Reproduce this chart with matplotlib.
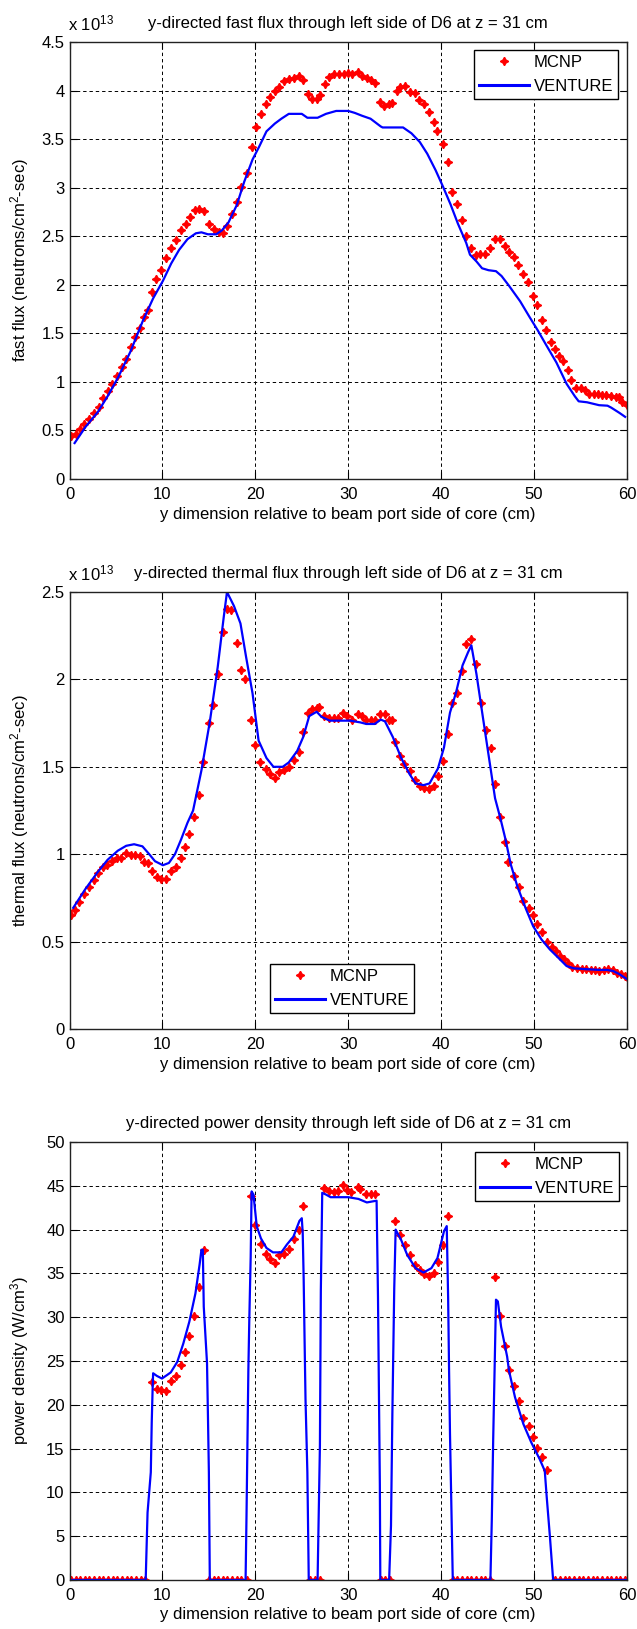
import numpy as np
import matplotlib
matplotlib.use('Agg')
import matplotlib.pyplot as plt
from matplotlib.ticker import FormatStrFormatter

plt.rcParams['font.family'] = ['Liberation Sans', 'DejaVu Sans']
plt.rcParams['font.size'] = 12
plt.rcParams['mathtext.default'] = 'regular'

# ---- fast flux (units of 1e13) ----
fast_mcnp_x = [0.2, 0.65, 1.1, 1.6, 2.1, 2.6, 3.15, 3.6, 4.1, 4.6, 5.1, 5.6, 6.1, 6.65, 7.1, 7.6,
               8.0, 8.4, 8.9, 9.35, 9.9, 10.4, 10.95, 11.5, 12.0, 12.5, 13.0, 13.5, 13.9, 14.45,
               15.0, 15.5, 16.1, 16.5, 17.0, 17.5, 18.05, 18.5, 19.05, 19.6, 20.05, 20.6, 21.1,
               21.6, 22.1, 22.6, 23.1, 23.65, 24.2, 24.65, 25.1, 25.7, 26.1, 26.6, 27.0, 27.5,
               27.95, 28.5, 29.0, 29.5, 30.0, 30.4, 31.0, 31.45, 32.0, 32.4, 32.9, 33.4, 33.9,
               34.4, 34.75, 35.2, 35.6, 36.1, 36.65, 37.15, 37.65, 38.2, 38.65, 39.2, 39.6, 40.15,
               40.7, 41.2, 41.7, 42.2, 42.7, 43.2, 43.7, 44.2, 44.75, 45.3, 45.8, 46.3, 46.9, 47.3,
               47.8, 48.3, 48.85, 49.35, 49.9, 50.3, 50.8, 51.3, 51.8, 52.25, 52.7, 53.1, 53.65,
               54.0, 54.5, 55.1, 55.5, 55.95, 56.4, 56.85, 57.3, 57.75, 58.3, 58.8, 59.15, 59.5, 60.0]
fast_mcnp_y = [0.44, 0.46, 0.52, 0.57, 0.62, 0.68, 0.74, 0.83, 0.91, 0.98, 1.06, 1.15, 1.24, 1.36, 1.46, 1.55,
               1.67, 1.74, 1.93, 2.06, 2.15, 2.28, 2.38, 2.46, 2.56, 2.63, 2.70, 2.77, 2.78, 2.76,
               2.63, 2.57, 2.54, 2.53, 2.61, 2.73, 2.85, 3.01, 3.15, 3.42, 3.62, 3.76, 3.86,
               3.93, 4.00, 4.04, 4.10, 4.12, 4.13, 4.15, 4.11, 3.96, 3.91, 3.91, 3.95, 4.07,
               4.14, 4.17, 4.17, 4.17, 4.18, 4.17, 4.19, 4.15, 4.13, 4.11, 4.08, 3.88, 3.84,
               3.86, 3.87, 4.00, 4.04, 4.05, 3.98, 3.97, 3.90, 3.86, 3.78, 3.68, 3.58, 3.45,
               3.26, 2.96, 2.83, 2.67, 2.50, 2.38, 2.31, 2.32, 2.32, 2.38, 2.47, 2.47, 2.40, 2.34,
               2.29, 2.20, 2.11, 2.03, 1.88, 1.79, 1.64, 1.53, 1.41, 1.34, 1.27, 1.21, 1.12,
               1.02, 0.94, 0.94, 0.92, 0.875, 0.875, 0.875, 0.865, 0.86, 0.855, 0.84, 0.84, 0.79, 0.76]
fast_vent_x = [0.55, 1.75, 3.05, 4.15, 5.25, 6.55, 7.9, 9.0, 10.05, 10.95, 11.8, 12.7, 13.6, 14.2,
               14.9, 15.8, 16.4, 17.1, 18.0, 18.8, 19.7, 20.4, 21.2, 22.1, 22.8, 23.6, 25.0, 25.6,
               26.7, 27.6, 28.7, 30.0, 30.7, 31.5, 32.4, 33.5, 33.7, 35.9, 36.8, 37.7, 38.5, 39.4,
               40.2, 41.0, 41.8, 42.7, 43.1, 43.8, 44.4, 45.1, 45.9, 46.5, 47.3, 48.5, 49.5, 50.4,
               51.3, 52.4, 53.5, 54.4, 54.8, 55.7, 57.0, 57.9, 58.3, 59.2, 59.8]
fast_vent_y = [0.37, 0.54, 0.69, 0.86, 1.05, 1.31, 1.63, 1.86, 2.04, 2.22, 2.36, 2.47, 2.53, 2.54,
               2.52, 2.52, 2.56, 2.64, 2.82, 3.06, 3.29, 3.42, 3.58, 3.66, 3.71, 3.76, 3.76, 3.72,
               3.72, 3.76, 3.79, 3.79, 3.77, 3.74, 3.71, 3.63, 3.62, 3.62, 3.56, 3.47, 3.35, 3.18,
               3.01, 2.83, 2.63, 2.43, 2.31, 2.24, 2.17, 2.15, 2.14, 2.09, 1.99, 1.83, 1.67, 1.53,
               1.38, 1.20, 0.98, 0.85, 0.80, 0.79, 0.76, 0.755, 0.735, 0.68, 0.64]

# ---- thermal flux (units of 1e13) ----
therm_mcnp_x = [0.15, 0.6, 1.05, 1.6, 2.05, 2.6, 3.1, 3.6, 4.05, 4.55, 5.1, 5.55, 6.1, 6.6, 7.1, 7.55,
                8.0, 8.4, 8.85, 9.4, 9.9, 10.4, 10.9, 11.45, 11.95, 12.4, 12.9, 13.4, 13.9, 14.4,
                15.0, 15.45, 15.95, 16.5, 16.9, 17.4, 18.0, 18.45, 18.9, 19.55, 20.0, 20.55, 21.1,
                21.6, 22.1, 22.6, 23.1, 23.6, 24.2, 24.65, 25.1, 25.7, 26.1, 26.6, 26.9, 27.4,
                27.95, 28.5, 28.9, 29.4, 29.85, 30.45, 31.0, 31.45, 31.9, 32.4, 32.85, 33.4, 33.95,
                34.4, 34.75, 35.05, 35.6, 36.05, 36.65, 37.15, 37.7, 38.2, 38.7, 39.2, 39.65, 40.2,
                40.75, 41.2, 41.7, 42.2, 42.7, 43.25, 43.8, 44.25, 44.8, 45.35, 45.8, 46.3, 46.9,
                47.2, 47.85, 48.4, 48.85, 49.4, 49.9, 50.3, 50.8, 51.4, 51.9, 52.35, 52.8, 53.25,
                53.7, 54.1, 54.65, 55.15, 55.6, 56.1, 56.55, 57.0, 57.5, 58.0, 58.5, 58.95, 59.4,
                59.8, 60.0]
therm_mcnp_y = [0.65, 0.68, 0.725, 0.775, 0.81, 0.855, 0.89, 0.925, 0.94, 0.96, 0.98, 0.98, 1.005, 0.995, 0.995, 0.99,
                0.955, 0.95, 0.905, 0.867, 0.86, 0.858, 0.905, 0.925, 0.98, 1.04, 1.113, 1.21, 1.34, 1.525,
                1.75, 1.855, 2.03, 2.27, 2.40, 2.395, 2.21, 2.055, 2.00, 1.77, 1.625, 1.53, 1.485,
                1.46, 1.435, 1.47, 1.48, 1.50, 1.54, 1.585, 1.70, 1.81, 1.83, 1.835, 1.84, 1.79,
                1.78, 1.78, 1.78, 1.81, 1.79, 1.77, 1.80, 1.79, 1.765, 1.765, 1.765, 1.80, 1.80,
                1.765, 1.765, 1.64, 1.56, 1.515, 1.475, 1.425, 1.39, 1.38, 1.375, 1.39, 1.45, 1.535,
                1.685, 1.865, 1.925, 2.05, 2.205, 2.23, 2.09, 1.865, 1.71, 1.61, 1.40, 1.215, 1.07,
                0.955, 0.877, 0.81, 0.735, 0.69, 0.65, 0.60, 0.555, 0.50, 0.47, 0.445, 0.42, 0.40,
                0.375, 0.355, 0.348, 0.342, 0.342, 0.338, 0.336, 0.332, 0.338, 0.345, 0.338, 0.322, 0.317,
                0.305, 0.295]
therm_vent_x = [0.4, 1.7, 3.0, 4.1, 5.2, 6.1, 6.95, 7.85, 8.5, 9.2, 10.05, 10.7, 11.35, 12.0, 12.7,
                13.3, 14.2, 15.1, 15.95, 16.6, 16.95, 17.7, 18.4, 19.0, 19.7, 20.35, 21.2, 21.95,
                22.95, 23.6, 24.5, 25.15, 25.8, 26.6, 27.1, 28.0, 30.2, 31.3, 31.95, 32.85, 33.5,
                33.95, 34.8, 35.7, 36.6, 37.25, 38.1, 38.75, 39.65, 40.3, 40.95, 41.6, 42.3, 42.9,
                43.25, 43.8, 44.5, 45.15, 45.8, 46.4, 46.9, 47.5, 48.2, 49.1, 49.9, 50.8, 51.7, 52.6,
                53.5, 54.3, 55.65, 57.0, 57.85, 58.5, 59.2, 60.0]
therm_vent_y = [0.693, 0.80, 0.895, 0.968, 1.02, 1.048, 1.057, 1.045, 1.005, 0.96, 0.937, 0.95, 1.0, 1.083, 1.18,
                1.25, 1.48, 1.757, 2.07, 2.357, 2.50, 2.42, 2.32, 2.13, 1.92, 1.65, 1.55, 1.50,
                1.50, 1.525, 1.59, 1.67, 1.79, 1.815, 1.787, 1.764, 1.764, 1.754, 1.745, 1.745, 1.77,
                1.76, 1.67, 1.55, 1.458, 1.405, 1.395, 1.405, 1.49, 1.61, 1.81, 1.925, 2.08, 2.156,
                2.195, 2.03, 1.78, 1.55, 1.32, 1.20, 1.09, 0.94, 0.816, 0.69, 0.588, 0.512, 0.455, 0.408,
                0.36, 0.347, 0.342, 0.338, 0.338, 0.332, 0.313, 0.285]

# ---- power density (W/cm3) ----
pow_mcnp_x = [0.15, 0.65, 1.15, 1.65, 2.15, 2.65, 3.15, 3.65, 4.15, 4.65, 5.15, 5.65, 6.15, 6.65, 7.15,
              7.65, 8.15, 8.85, 9.4, 9.9, 10.4, 10.9, 11.45, 11.95, 12.4, 12.9, 13.45, 13.9, 14.45,
              15.0, 15.5, 16.0, 16.5, 17.0, 17.5, 18.0, 18.5, 19.05, 19.55, 20.0, 20.6, 21.1, 21.6,
              22.1, 22.6, 23.1, 23.6, 24.15, 24.75, 25.1, 25.85, 26.4, 26.95, 27.4, 27.95, 28.5,
              28.9, 29.4, 29.85, 30.3, 31.0, 31.3, 31.9, 32.4, 32.85, 33.5, 34.0, 34.5, 35.05, 35.6,
              36.15, 36.65, 37.15, 37.7, 38.2, 38.7, 39.2, 39.65, 40.2, 40.75, 41.25, 41.75, 42.25,
              42.75, 43.25, 43.75, 44.25, 44.75, 45.3, 45.8, 46.35, 46.9, 47.3, 47.85, 48.35, 48.8,
              49.4, 49.9, 50.3, 50.85, 51.35, 52.3, 52.8, 53.3, 53.8, 54.3, 54.8, 55.3, 55.8, 56.3,
              56.8, 57.3, 57.8, 58.3, 58.8, 59.3, 59.8]
pow_mcnp_y = [0, 0, 0, 0, 0, 0, 0, 0, 0, 0, 0, 0, 0, 0, 0,
              0, 0, 22.56, 21.8, 21.7, 21.6, 22.7, 23.25, 24.6, 26.0, 27.9, 30.1, 33.4, 37.7,
              0, 0, 0, 0, 0, 0, 0, 0, 0, 43.8, 40.5, 38.4, 37.2, 36.7,
              36.2, 37.1, 37.2, 37.8, 38.95, 39.9, 42.65, 0, 0, 0, 44.74, 44.36, 44.25,
              44.44, 45.1, 44.55, 44.25, 44.86, 44.63, 44.1, 44.1, 44.1, 0, 0, 0, 41.0, 39.33,
              38.27, 37.12, 36.0, 35.4, 34.95, 34.65, 35.0, 36.3, 38.27, 41.6, 0, 0, 0,
              0, 0, 0, 0, 0, 0, 34.6, 30.1, 26.75, 24.0, 22.1, 20.4, 18.5,
              17.6, 16.35, 15.1, 14.06, 12.54, 0, 0, 0, 0, 0, 0, 0, 0, 0,
              0, 0, 0, 0, 0, 0, 0]
pow_vent_x = [0.15, 8.2, 8.4, 8.75, 8.85, 8.95, 9.0, 9.4, 9.95, 10.5, 10.9, 11.6, 12.25, 12.9, 13.55,
              14.0, 14.2, 14.35, 14.45, 14.8, 14.9, 15.0, 15.1,
              18.95, 19.05, 19.25, 19.35, 19.5, 19.6, 19.8, 20.15, 20.6, 21.2, 21.9, 22.8, 23.4,
              24.1, 24.75, 25.0, 25.1, 25.2, 25.3, 25.4, 25.6, 25.75,
              26.7, 26.8, 26.95, 27.05, 27.2, 27.6, 28.1, 30.0, 31.1, 32.0, 33.05, 33.2, 33.4, 33.45,
              34.4, 34.6, 34.75, 34.95, 35.1, 35.7, 36.35, 37.25, 38.1, 38.95, 39.6, 40.3, 40.6,
              40.75, 40.85, 40.95, 41.1, 41.25,
              45.3, 45.45, 45.6, 45.8, 45.9, 46.1, 46.45, 47.1, 47.3, 47.95, 48.85, 49.7, 50.6,
              51.15, 51.35, 51.7, 52.05, 60.0]
pow_vent_y = [0, 0, 7.7, 12.3, 18.0, 22.0, 23.6, 23.3, 23.0, 23.4, 23.7, 24.9, 27.0, 29.5, 32.7,
              36.0, 37.7, 37.7, 31.2, 24.75, 18.75, 12.3, 0,
              0, 7.3, 24.0, 29.7, 36.9, 44.36, 44.0, 40.4, 39.0, 37.9, 37.4, 37.4, 38.3,
              39.2, 41.0, 41.3, 39.6, 34.5, 27.4, 20.65, 12.3, 0,
              0, 6.2, 15.3, 33.1, 44.2, 44.0, 43.7, 43.7, 43.5, 43.1, 43.3, 32.4, 10.9, 0,
              0, 6.2, 19.1, 33.3, 40.0, 38.8, 37.1, 35.6, 35.1, 35.6, 36.75, 39.8, 40.4,
              32.2, 24.0, 16.65, 8.3, 0,
              0, 6.9, 16.1, 26.65, 32.0, 31.8, 28.9, 25.5, 23.9, 20.85, 17.8, 15.7, 13.8,
              12.46, 9.6, 5.0, 0, 0]

xlabel = 'y dimension relative to beam port side of core (cm)'
x_ticks = [0, 10, 20, 30, 40, 50, 60]

fig = plt.figure(figsize=(6.37, 16.29), dpi=100)
W, H = 637.0, 1629.0
left, right = 69.5, 627.0


def make_axes(top, bottom):
    return fig.add_axes([left / W, (H - bottom) / H, (right - left) / W, (bottom - top) / H])


def draw(ax, mx, my, vx, vy, title, ylabel, yticks, ymax, leg_loc, leg_anchor, offset=False):
    ax.plot(mx, my, linestyle='none', marker=(4, 1, 0), markersize=6, color='#ff0000',
            markeredgewidth=1.0, label='MCNP')
    ax.plot(vx, vy, color='#0000ff', linewidth=1.6, label='VENTURE')
    ax.set_xlim(0, 60)
    ax.set_ylim(0, ymax)
    ax.set_xticks(x_ticks)
    ax.set_yticks(yticks)
    ax.yaxis.set_major_formatter(FormatStrFormatter('%g'))
    ax.grid(True, color='black', linestyle=(0, (3.5, 3.0)), linewidth=0.7)
    ax.tick_params(direction='in', top=True, right=True, length=5, width=0.8, labelsize=12)
    ax.tick_params(axis='x', pad=6)
    ax.tick_params(axis='y', pad=3.5)
    for sp in ax.spines.values():
        sp.set_linewidth(1.0)
        sp.set_color('#222222')
    ax.set_title(title, fontsize=12, pad=10)
    ax.set_xlabel(xlabel, fontsize=12, labelpad=3)
    ax.set_ylabel(ylabel, fontsize=12)
    ax.yaxis.set_label_coords(-0.069, 0.5)
    if offset:
        ax.text(-0.002, 1.02, r'x 10$^{13}$', transform=ax.transAxes, ha='left', va='bottom',
                fontsize=12)
    leg = ax.legend(loc=leg_loc, bbox_to_anchor=leg_anchor, borderaxespad=0, fancybox=False,
                    edgecolor='black', framealpha=1, handlelength=3.0, handletextpad=0.3,
                    labelspacing=0.55, borderpad=0.3, numpoints=1, fontsize=12)
    leg.get_frame().set_linewidth(1.0)
    leg.get_lines()[1].set_linewidth(2.2)


ax1 = make_axes(42, 479)
draw(ax1, fast_mcnp_x, fast_mcnp_y, fast_vent_x, fast_vent_y,
     'y-directed fast flux through left side of D6 at z = 31 cm',
     r'fast flux (neutrons/cm$^{2}$-sec)', np.arange(0, 4.51, 0.5), 4.5,
     'upper right', (0.984, 0.982), offset=True)

ax2 = make_axes(592, 1029)
draw(ax2, therm_mcnp_x, therm_mcnp_y, therm_vent_x, therm_vent_y,
     'y-directed thermal flux through left side of D6 at z = 31 cm',
     r'thermal flux (neutrons/cm$^{2}$-sec)', np.arange(0, 2.51, 0.5), 2.5,
     'lower left', (0.3596, 0.0366), offset=True)

ax3 = make_axes(1142, 1580)
draw(ax3, pow_mcnp_x, pow_mcnp_y, pow_vent_x, pow_vent_y,
     'y-directed power density through left side of D6 at z = 31 cm',
     r'power density (W/cm$^{3}$)', np.arange(0, 51, 5), 50,
     'upper right', (0.9865, 0.977))

fig.savefig('out.png', dpi=100)
